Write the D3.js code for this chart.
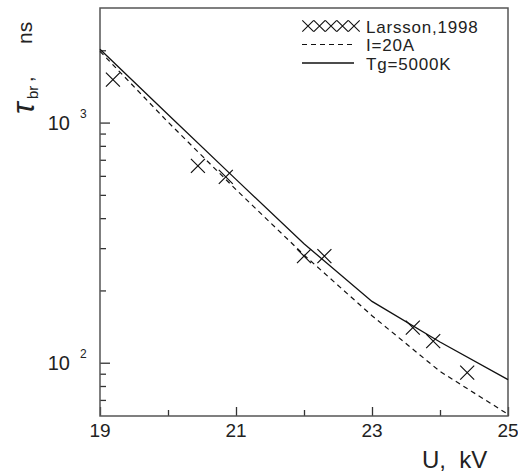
<!DOCTYPE html>
<html>
<head>
<meta charset="utf-8">
<script src="https://cdn.jsdelivr.net/npm/d3@7"></script>
<style>
body { margin: 0; background: #fff; }
text { font-family: "Liberation Sans", Arial, sans-serif; fill: #222; }
</style>
</head>
<body>
<script>
// Larsson, 1998 measurements
var larssonU = [19.19, 20.44, 20.85, 22.0, 22.3, 23.6, 23.9, 24.4];
var larssonT = [1510, 660, 594, 278, 278, 140, 123, 91];
// model curves
var curveU = [19, 20, 21, 22, 23, 24, 25];
var curveI20A = [1980, 1005, 526, 281, 157, 92, 61];
var curveTg5000K = [2020, 1080, 580, 313, 180, 122, 85];

var xMajor = [19, 21, 23, 25];
var xMinor = [20, 22, 24];
var yMajor = [100, 1000];
var yMinor = [70, 80, 90, 200, 300, 400, 500, 600, 700, 800, 900, 2000];
var legendLabels = ["Larsson,1998", "I=20A", "Tg=5000K"];

var w = 518, h = 475;
var pLeft = 100, pRight = 508, pTop = 8, pBottom = 416;

var x = d3.scaleLinear().domain([19, 25]).range([pLeft, pRight]);
var y = d3.scaleLog().domain([60, 3000]).range([pBottom, pTop]);

var svg = d3.select("body").append("svg")
	.attr("width", w)
	.attr("height", h);

// ticks (inward)
function tickAxis(axis, tr) {
	var g = svg.append("g").attr("transform", tr).call(axis);
	g.select(".domain").remove();
	g.selectAll(".tick line").attr("stroke", "#333").attr("stroke-width", 1.3);
	return g;
}
tickAxis(d3.axisBottom(x).tickValues(xMajor).tickSize(-9).tickFormat(""), "translate(0," + pBottom + ")");
tickAxis(d3.axisBottom(x).tickValues(xMinor).tickSize(-6).tickFormat(""), "translate(0," + pBottom + ")");
tickAxis(d3.axisLeft(y).tickValues(yMajor).tickSize(-10).tickFormat(""), "translate(" + pLeft + ",0)");
tickAxis(d3.axisLeft(y).tickValues(yMinor).tickSize(-6).tickFormat(""), "translate(" + pLeft + ",0)");

// frame
svg.append("rect")
	.attr("x", pLeft).attr("y", pTop)
	.attr("width", pRight - pLeft).attr("height", pBottom - pTop)
	.attr("fill", "none")
	.attr("stroke", "#555")
	.attr("stroke-width", 1.5);

// x tick labels
svg.selectAll(".xlab")
	.data(xMajor)
	.enter()
	.append("text")
	.attr("x", function(d) { return x(d); })
	.attr("y", 437)
	.attr("text-anchor", "middle")
	.attr("font-size", "19px")
	.text(function(d) { return d; });

// y tick labels 10^n
yMajor.forEach(function(d) {
	svg.append("text")
		.attr("x", 70)
		.attr("y", y(d) + 7)
		.attr("text-anchor", "end")
		.attr("font-size", "20px")
		.text("10");
	svg.append("text")
		.attr("x", 80)
		.attr("y", y(d) - 5)
		.attr("font-size", "12px")
		.text(Math.round(Math.log10(d)));
});

// curves
var line = d3.line()
	.x(function(d, i) { return x(curveU[i]); })
	.y(function(d) { return y(d); });

svg.append("path")
	.datum(curveI20A)
	.attr("d", line)
	.attr("fill", "none")
	.attr("stroke", "#111")
	.attr("stroke-width", 1.2)
	.attr("stroke-dasharray", "5,4");

svg.append("path")
	.datum(curveTg5000K)
	.attr("d", line)
	.attr("fill", "none")
	.attr("stroke", "#111")
	.attr("stroke-width", 1.3);

// crosses
function cross(cx, cy, r) {
	return "M" + (cx - r) + "," + (cy - r) + "L" + (cx + r) + "," + (cy + r) +
		"M" + (cx - r) + "," + (cy + r) + "L" + (cx + r) + "," + (cy - r);
}
svg.selectAll(".pt")
	.data(larssonT)
	.enter()
	.append("path")
	.attr("d", function(d, i) { return cross(x(larssonU[i]), y(d), 7); })
	.attr("stroke", "#111")
	.attr("stroke-width", 1.2);

// legend
var lx0 = 302, lx1 = 358, tx = 366;
var ly = [26, 44.5, 63];
d3.range(5).forEach(function(k) {
	svg.append("path")
		.attr("d", cross(lx0 + 6 + k * 11.5, ly[0], 5.7))
		.attr("stroke", "#111")
		.attr("stroke-width", 1.1);
});
svg.append("line")
	.attr("x1", lx0).attr("x2", lx1 - 4)
	.attr("y1", ly[1]).attr("y2", ly[1])
	.attr("stroke", "#111").attr("stroke-width", 1.2)
	.attr("stroke-dasharray", "5,4");
svg.append("line")
	.attr("x1", lx0).attr("x2", lx1 - 4)
	.attr("y1", ly[2]).attr("y2", ly[2])
	.attr("stroke", "#111").attr("stroke-width", 1.3);
svg.selectAll(".leg")
	.data(legendLabels)
	.enter()
	.append("text")
	.attr("x", tx)
	.attr("y", function(d, i) { return ly[i] + 6.5; })
	.attr("font-size", "17px")
	.attr("letter-spacing", "0.8px")
	.text(function(d) { return d; });

// axis titles
svg.append("text")
	.attr("x", 422)
	.attr("y", 468)
	.attr("font-size", "24px")
	.attr("xml:space", "preserve")
	.text("U,  kV");

var yt = svg.append("g").attr("transform", "rotate(-90)");
yt.append("text")
	.attr("x", -114).attr("y", 34)
	.attr("font-size", "31px")
	.attr("font-style", "italic")
	.text("\u03c4");
yt.append("text")
	.attr("x", -99).attr("y", 38)
	.attr("font-size", "15px")
	.text("br");
yt.append("text")
	.attr("x", -82).attr("y", 33)
	.attr("font-size", "20px")
	.text(",");
yt.append("text")
	.attr("x", -44).attr("y", 32)
	.attr("font-size", "21px")
	.text("ns");
</script>
</body>
</html>
